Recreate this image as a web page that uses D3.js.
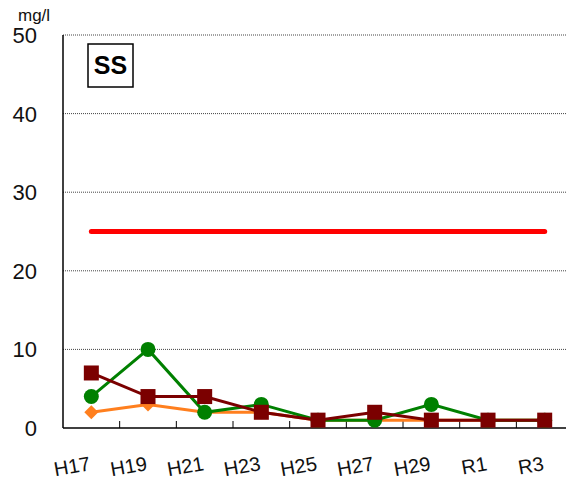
<!DOCTYPE html>
<html><head><meta charset="utf-8">
<script src="https://cdn.jsdelivr.net/npm/d3@7"></script>
<style>body{margin:0;background:#fff}svg{display:block}text{font-family:"Liberation Sans",Arial,sans-serif}</style>
</head><body>
<svg id="c" width="566" height="480"></svg>
<script>
const categories = ["H17","H19","H21","H23","H25","H27","H29","R1","R3"];
const orangeVals = [2,3,2,2,1,1,1,1,1];
const greenVals = [4,10,2,3,1,1,3,1,1];
const maroonVals = [7,4,4,2,1,2,1,1,1];
const standardVals = [25,25,25,25,25,25,25,25,25];
const yTicks = [0,10,20,30,40,50];

(function(){
const svg = d3.select("#c");
const mLeft = 63, mTop = 35, mBottom = 428, bandW = 56.67;
const x = d3.scaleBand().domain(categories).range([mLeft, mLeft + bandW*categories.length]).padding(0);
const y = d3.scaleLinear().domain([0,50]).range([mBottom, mTop]);
const cx = d => x(d) + x.bandwidth()/2;

// gridlines
svg.append("g").selectAll("line").data(yTicks.filter(v=>v>0)).join("line")
  .attr("x1", mLeft).attr("x2", 566).attr("y1", d=>y(d)).attr("y2", d=>y(d))
  .attr("stroke", "#444").attr("stroke-width", 1).attr("stroke-dasharray", "1,1");

// y labels
svg.append("g").selectAll("text").data(yTicks).join("text")
  .attr("x", 37).attr("y", d=>y(d)+8).attr("text-anchor","end")
  .attr("font-size", 22).attr("fill","#111").text(d=>d);
svg.append("text").attr("x",18).attr("y",21).attr("font-size",17).attr("fill","#111").text("mg/l");

// axes
svg.append("line").attr("x1",mLeft).attr("x2",mLeft).attr("y1",mTop).attr("y2",mBottom).attr("stroke","#000").attr("stroke-width",1.5);
svg.append("line").attr("x1",mLeft).attr("x2",566).attr("y1",mBottom).attr("y2",mBottom).attr("stroke","#000").attr("stroke-width",1.5);
svg.append("g").selectAll("line").data(categories.slice(1)).join("line")
  .attr("x1", d=>x(d)).attr("x2", d=>x(d)).attr("y1", mBottom).attr("y2", mBottom-7)
  .attr("stroke","#000").attr("stroke-width",1);

// x labels
svg.append("g").selectAll("text").data(categories).join("text")
  .attr("transform", d=>`translate(${cx(d)},${mBottom+42}) rotate(-10)`)
  .attr("text-anchor","end").attr("font-size",20).attr("fill","#111").text(d=>d);

// SS box
svg.append("rect").attr("x",88).attr("y",44).attr("width",45).attr("height",43).attr("fill","#fff").attr("stroke","#000").attr("stroke-width",1.5);
svg.append("text").attr("x",110.5).attr("y",74).attr("text-anchor","middle").attr("font-size",25).attr("font-weight","bold").text("SS");

const line = d3.line().x((d,i)=>cx(categories[i])).y(d=>y(d));

// standard line
svg.append("path").datum(standardVals).attr("d", line).attr("fill","none")
  .attr("stroke","#ff0000").attr("stroke-width",5).attr("stroke-linecap","round");

function series(vals, color, shape){
  svg.append("path").datum(vals).attr("d", line).attr("fill","none").attr("stroke",color).attr("stroke-width",3);
  const g = svg.append("g");
  vals.forEach((v,i)=>{
    const px = cx(categories[i]), py = y(v);
    if(shape==="circle") g.append("circle").attr("cx",px).attr("cy",py).attr("r",7.5).attr("fill",color);
    else if(shape==="square") g.append("rect").attr("x",px-7.5).attr("y",py-7.5).attr("width",15).attr("height",15).attr("fill",color);
    else g.append("path").attr("d",`M${px},${py-7}L${px+7},${py}L${px},${py+7}L${px-7},${py}Z`).attr("fill",color);
  });
}
series(orangeVals, "#ff7f1e", "diamond");
series(greenVals, "#008000", "circle");
series(maroonVals, "#7b0000", "square");
})();
</script>
</body></html>
